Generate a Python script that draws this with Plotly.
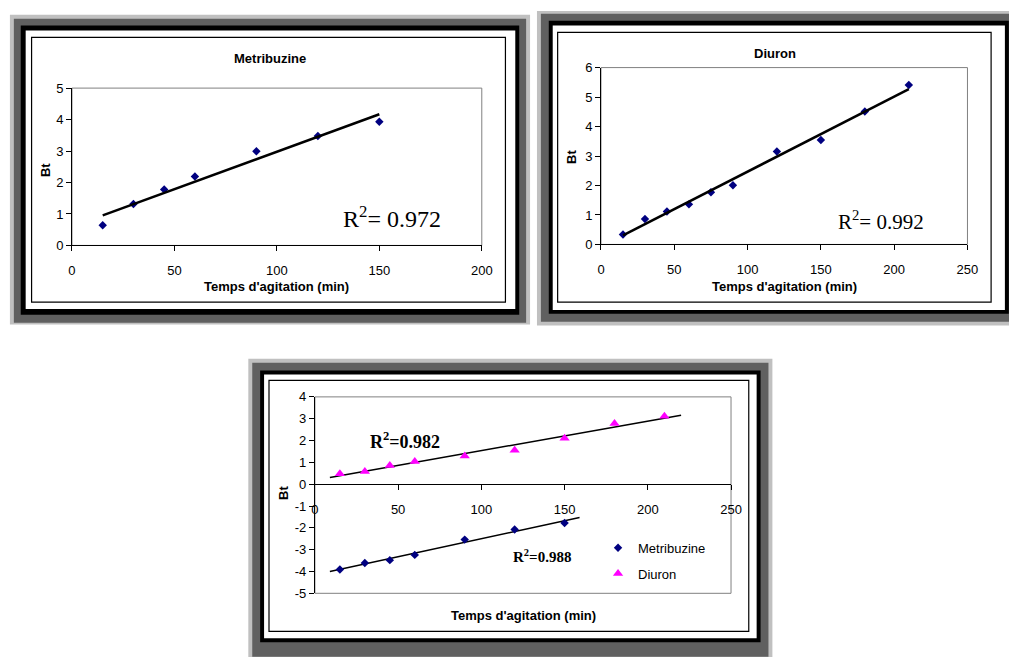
import numpy as np
import plotly.graph_objects as go

W, H = 1009, 657

# ---------------- data ----------------
met_time = [15, 30, 45, 60, 90, 120, 150]
met_bt = [0.64, 1.32, 1.78, 2.19, 2.99, 3.48, 3.93]

diu_time = [15, 30, 45, 60, 75, 90, 120, 150, 180, 210]
diu_bt = [0.34, 0.86, 1.12, 1.36, 1.77, 2.01, 3.15, 3.54, 4.51, 5.41]

comb_met_time = [15, 30, 45, 60, 90, 120, 150]
comb_met_bt = [-3.91, -3.61, -3.48, -3.24, -2.54, -2.08, -1.78]

comb_diu_time = [15, 30, 45, 60, 90, 120, 150, 180, 210]
comb_diu_bt = [0.48, 0.58, 0.86, 1.04, 1.29, 1.56, 2.11, 2.78, 3.11]

# extents of the trend lines (forecast back/forward in the combined chart)
met_trend_x = [15, 150]
diu_trend_x = [15, 210]
comb_met_trend_x = [9, 159]
comb_diu_trend_x = [9, 220]

r2_met, r2_diu, r2_comb_diu, r2_comb_met = "0.972", "0.992", "0.982", "0.988"

y3_tickvals = [-5, -4, -3, -2, -1, 0, 1, 2, 3, 4]
y3_ticktext = ["-5", "-4", "-3", "-2", "-1", "0", "1", "2", "3", "4"]

xtitle = "Temps d'agitation (min)"
ytitle = "Bt"

# ---------------- helpers ----------------
def px(x):
    return x / W


def py(y):
    return 1 - y / H


def trend(x, y, ext):
    c = np.polyfit(x, y, 1)
    return ext, list(np.polyval(c, ext))


SANS = "Liberation Sans, Arial, sans-serif"
SERIF = "Liberation Serif, Times New Roman, serif"
NAVY = "#000080"
MAG = "#FF00FF"

fig = go.Figure()

# chart 1
fig.add_trace(go.Scatter(x=met_time, y=met_bt, mode="markers", showlegend=False,
                         marker=dict(symbol="diamond", size=6.5, color=NAVY),
                         xaxis="x", yaxis="y"))
tx, ty = trend(met_time, met_bt, met_trend_x)
fig.add_trace(go.Scatter(x=tx, y=ty, mode="lines", showlegend=False,
                         line=dict(color="black", width=2.5), xaxis="x", yaxis="y"))

# chart 2
fig.add_trace(go.Scatter(x=diu_time, y=diu_bt, mode="markers", showlegend=False,
                         marker=dict(symbol="diamond", size=6.5, color=NAVY),
                         xaxis="x2", yaxis="y2"))
tx, ty = trend(diu_time, diu_bt, diu_trend_x)
fig.add_trace(go.Scatter(x=tx, y=ty, mode="lines", showlegend=False,
                         line=dict(color="black", width=2.5), xaxis="x2", yaxis="y2"))

# chart 3
tx, ty = trend(comb_met_time, comb_met_bt, comb_met_trend_x)
fig.add_trace(go.Scatter(x=tx, y=ty, mode="lines", showlegend=False,
                         line=dict(color="black", width=1.5), xaxis="x3", yaxis="y3"))
tx, ty = trend(comb_diu_time, comb_diu_bt, comb_diu_trend_x)
fig.add_trace(go.Scatter(x=tx, y=ty, mode="lines", showlegend=False,
                         line=dict(color="black", width=1.5), xaxis="x3", yaxis="y3"))
fig.add_trace(go.Scatter(x=comb_met_time, y=comb_met_bt, mode="markers", name="Metribuzine",
                         legendgroup="m",
                         marker=dict(symbol="diamond", size=6.5, color=NAVY),
                         xaxis="x3", yaxis="y3"))
fig.add_trace(go.Scatter(x=comb_diu_time, y=comb_diu_bt, mode="markers", name="Diuron",
                         legendgroup="d",
                         marker=dict(symbol="triangle-up", size=9, color=MAG),
                         xaxis="x3", yaxis="y3"))

axis_common = dict(showline=True, linecolor="black", linewidth=1, ticks="outside",
                   ticklen=5, tickcolor="black", tickwidth=1, showgrid=False,
                   zeroline=False, fixedrange=True,
                   tickfont=dict(family=SANS, size=13, color="black"))

# chart geometry (pixels)
c1 = dict(x0=69, x1=485, y0=244, y1=83)
c2 = dict(x0=606, x1=978, y0=243, y1=62)
c3 = dict(x0=315.6, x1=738, y0=600, y1=399)

y3_dom = [py(c3["y0"]), py(c3["y1"])]
x3_pos = y3_dom[0] + (0 - (-5)) / 9 * (y3_dom[1] - y3_dom[0])

fig.update_layout(
    width=W, height=H, autosize=False,
    margin=dict(l=0, r=0, t=0, b=0, pad=0),
    paper_bgcolor="white", plot_bgcolor="rgba(0,0,0,0)",
    xaxis=dict(domain=[px(c1["x0"]), px(c1["x1"])], range=[0, 200], dtick=50,
               anchor="y", ticklabelstandoff=8, **axis_common),
    yaxis=dict(domain=[py(c1["y0"]), py(c1["y1"])], range=[0, 5], dtick=1,
               anchor="x", **axis_common),
    xaxis2=dict(domain=[px(c2["x0"]), px(c2["x1"])], range=[0, 250], dtick=50,
                anchor="y2", ticklabelstandoff=8, **axis_common),
    yaxis2=dict(domain=[py(c2["y0"]), py(c2["y1"])], range=[0, 6], dtick=1,
                anchor="x2", **axis_common),
    xaxis3=dict(domain=[px(c3["x0"]), px(c3["x1"])], range=[0, 250], dtick=50,
                anchor="free", position=x3_pos, ticklabelstandoff=8, **axis_common),
    yaxis3=dict(domain=y3_dom, range=[-5, 4], tickvals=y3_tickvals,
                ticktext=y3_ticktext, anchor="x3", **axis_common),
    legend=dict(x=px(603), y=py(538), xanchor="left", yanchor="top",
                bgcolor="rgba(0,0,0,0)", font=dict(family=SANS, size=13, color="black"),
                tracegroupgap=6, itemwidth=30),
    showlegend=True,
)

# ---------------- frames ----------------
shapes = []


def rect(x0, y0, x1, y1, fill=None, line=None, lw=0):
    d = dict(type="rect", xref="paper", yref="paper",
             x0=px(x0), x1=px(x1), y0=py(y1), y1=py(y0), layer="below")
    d["fillcolor"] = fill if fill else "rgba(0,0,0,0)"
    d["line"] = dict(color=line or "rgba(0,0,0,0)", width=lw)
    return d


def frame(o, g, b, w, inner):
    shapes.append(rect(*o, fill="#C0C0C0"))
    shapes.append(rect(*g, fill="#606060"))
    shapes.append(rect(*b, fill="black"))
    shapes.append(rect(*w, fill="white"))
    shapes.append(rect(*inner, line="black", lw=1.2))


frame((6, 8, 534, 325), (10, 12, 530, 323), (17, 19, 523, 315), (22, 24, 519, 309),
      (28, 31, 509, 302))
frame((541, 4, 1030, 326), (545, 7, 1026, 322), (553, 14, 1020, 314), (557, 19, 1016, 310),
      (562, 26, 1002, 302))
frame((248, 360, 780, 670), (252, 364, 776, 665), (260, 372, 768, 650), (264, 376, 764, 646),
      (269, 382, 756, 639))

# plot-area borders (gray)
for c in (c1, c2, c3):
    shapes.append(dict(type="rect", xref="paper", yref="paper",
                       x0=px(c["x0"]), x1=px(c["x1"]), y0=py(c["y0"]), y1=py(c["y1"]),
                       line=dict(color="#808080", width=1), layer="below"))

fig.update_layout(shapes=shapes)

# ---------------- texts ----------------
ann = []


def text(x, y, s, size, family=SANS, bold=False, angle=0, xanchor="center"):
    if bold:
        s = "<b>" + s + "</b>"
    ann.append(dict(xref="paper", yref="paper", x=px(x), y=py(y), text=s, showarrow=False,
                    xanchor=xanchor, yanchor="middle", textangle=angle,
                    font=dict(family=family, size=size, color="black")))


text(270, 53, "Metribuzine", 13, bold=True)
text(783, 48, "Diuron", 13, bold=True)
text(277, 286, xtitle, 13, bold=True)
text(792, 286, xtitle, 13, bold=True)
text(527, 623, xtitle, 13, bold=True)
text(41.5, 167, ytitle, 13, bold=True, angle=-90)
text(576, 153, ytitle, 13, bold=True, angle=-90)
text(283.5, 497, ytitle, 13, bold=True, angle=-90)

text(342, 215, "R<sup>2</sup>= " + r2_met, 24, family=SERIF, xanchor="left")
text(845, 218, "R<sup>2</sup>= " + r2_diu, 21, family=SERIF, xanchor="left")
text(370, 444, "R<sup>2</sup>=" + r2_comb_diu, 18, family=SERIF, bold=True, xanchor="left")
text(515, 562, "R<sup>2</sup>=" + r2_comb_met, 15, family=SERIF, bold=True, xanchor="left")

fig.update_layout(annotations=ann)

fig.write_html("out.html",
               config={"displayModeBar": False, "staticPlot": False},
               post_script="document.body.style.margin='0px';"
                           "document.body.style.overflow='hidden';")
